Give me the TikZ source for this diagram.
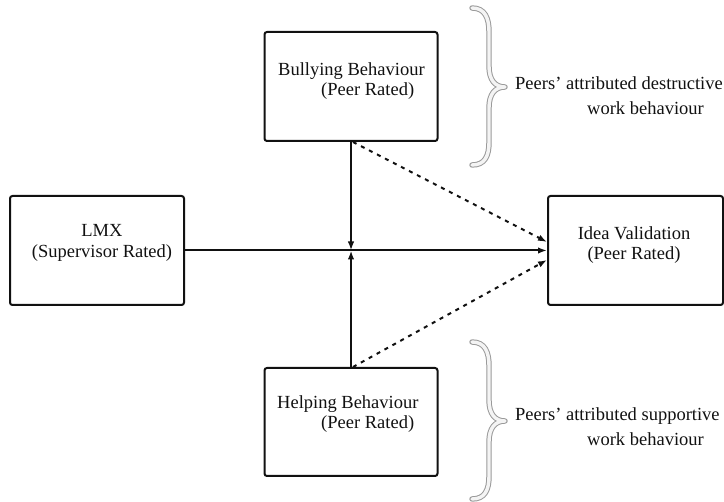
\documentclass[tikz,border=0pt]{standalone}
\usepackage{fontspec}
\setmainfont{Liberation Serif}
\usetikzlibrary{arrows.meta,calc,positioning}
\definecolor{ModelInk}{HTML}{111111}
\definecolor{BraceEdge}{HTML}{9A9A9A}
\definecolor{BraceFill}{HTML}{F4F4F4}
\tikzset{
  every node/.style={text=ModelInk, font=\rmfamily\fontsize{18.5}{20.5}\selectfont},
  construct/.style={draw=ModelInk, line width=2pt, rounded corners=2.5pt, inner sep=0pt},
  caption/.style={inner sep=0pt, align=left},
  effect/.style={-{Latex[length=9pt,width=6.5pt]}, draw=ModelInk, line width=2pt},
  moderated/.style={-{Latex[length=9pt,width=6.5pt]}, draw=ModelInk, line width=2pt, dash pattern=on 4pt off 5pt},
  grouping/.style={draw=BraceEdge, line width=1pt, double=BraceFill, double distance=3.4pt, line cap=round, line join=round},
}
\begin{document}
\begin{tikzpicture}[x=1pt,y=-1pt]
  \useasboundingbox (0,0) rectangle (724,502);
  % Boxes
  \node[construct, minimum width=173, minimum height=109] (bully) at (351,86.5) {};
  \node[construct, minimum width=173, minimum height=108] (help) at (351,422) {};
  \node[construct, minimum width=174, minimum height=109] (lmx) at (97,250.5) {};
  \node[construct, minimum width=175, minimum height=109] (idea) at (635.5,250.5) {};
  % Box texts
  \node[caption, anchor=west] (bullytext) at (278,81) {Bullying Behaviour\\\hspace*{43pt}(Peer Rated)};
  \node[caption, anchor=west] (helptext) at (277,414) {Helping Behaviour\\\hspace*{44pt}(Peer Rated)};
  \node[caption, align=center] (lmxtext) at (102,243) {LMX\\(Supervisor Rated)};
  \node[caption, align=center] (ideatext) at (634,245) {Idea Validation\\(Peer Rated)};
  % Paths
  \coordinate (mid) at (351,250.5);
  \draw[effect] (lmx.east) -- (idea.west);
  \draw[effect] (bully.south) -- (mid);
  \draw[effect] (help.north) -- (mid);
  \draw[moderated] ([xshift=2pt]bully.south) -- ([yshift=8.5pt]idea.west);
  \draw[moderated] ([xshift=2pt]help.north) -- ([yshift=-9.5pt]idea.west);
  % Braces
  \foreach \yo in {0,334}
    \draw[grouping, shift={(0,\yo)}]
      (472,8) .. controls (485,8) and (489,18) .. (489,32) -- (489,66)
      .. controls (489,80) and (495,87) .. (505,87)
      .. controls (495,87) and (489,94) .. (489,108) -- (489,142)
      .. controls (489,156) and (485,165) .. (472,165);
  \node[caption, anchor=west, font=\rmfamily\fontsize{18.5}{25}\selectfont] (destructive) at (515,96)
    {Peers' attributed destructive\\\hspace*{72pt}work behaviour};
  \node[caption, anchor=west, font=\rmfamily\fontsize{18.5}{25}\selectfont] (supportive) at (515,427)
    {Peers' attributed supportive\\\hspace*{72pt}work behaviour};
\end{tikzpicture}
\end{document}
